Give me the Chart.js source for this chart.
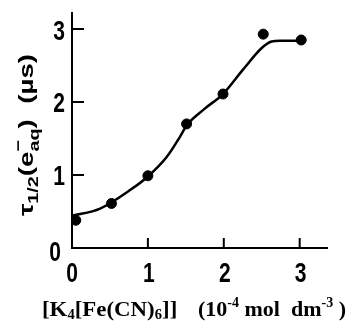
<!DOCTYPE html>
<html>
<head>
<meta charset="utf-8">
<script src="https://cdn.jsdelivr.net/npm/chart.js@4/dist/chart.umd.min.js"></script>
<style>
  html, body { margin: 0; padding: 0; background: #fff; }
  #wrap { width: 348px; height: 327px; }
</style>
</head>
<body>
<div id="wrap"><canvas id="tauChart"></canvas></div>
<script>
// measured points (concentration in 1e-4 mol dm-3, half-life in us)
const conc = [0.05, 0.52, 1.0, 1.51, 1.99, 2.52, 3.02];
const tau = [0.38, 0.61, 0.99, 1.70, 2.11, 2.93, 2.85];

// hand-drawn fit curve
const curveX = [0, 0.37, 0.76, 1.0, 1.25, 1.42, 1.51, 1.75, 1.99, 2.25, 2.5, 2.63, 2.74, 3.04];
const curveY = [0.44, 0.54, 0.79, 0.98, 1.25, 1.52, 1.68, 1.91, 2.11, 2.44, 2.74, 2.83, 2.84, 2.84];

const xTicks = [0, 1, 2, 3];
const yTicks = [0, 1, 2, 3];
const xMax = 3.36;
const yMax = 3.22;

const tickFont = 'bold 27px "Liberation Sans", Arial, sans-serif';
const ySans = 'bold 21px "Liberation Sans", Arial, sans-serif';
const ySansSmall = 'bold 15px "Liberation Sans", Arial, sans-serif';
const serif = 'bold 22px "Liberation Serif", "Times New Roman", serif';
const serifSmall = 'bold 14px "Liberation Serif", "Times New Roman", serif';

function runsWidth(ctx, runs) {
    let w = 0;
    runs.forEach(r => {
        ctx.font = r.font;
        if (!r.keep) w += ctx.measureText(r.t).width;
    });
    return w;
}

function drawRuns(ctx, runs, x, y) {
    let cx = x;
    runs.forEach(r => {
        ctx.font = r.font;
        ctx.fillText(r.t, cx, y + (r.dy || 0));
        if (!r.keep) cx += ctx.measureText(r.t).width;
    });
}

// narrow digits like the scanned figure
function narrowText(ctx, txt, x, y, sx) {
    ctx.save();
    ctx.translate(x, y);
    ctx.scale(sx, 1);
    ctx.fillText(txt, 0, 0);
    ctx.restore();
}

const axisDeco = {
    id: 'axisDeco',
    afterDraw(chart) {
        const ctx = chart.ctx;
        const xs = chart.scales.x;
        const ys = chart.scales.y;
        const area = chart.chartArea;
        ctx.save();
        ctx.fillStyle = '#000';
        ctx.strokeStyle = '#000';
        ctx.lineWidth = 2;

        // inward tick marks
        ctx.beginPath();
        yTicks.slice(1).forEach(v => {
            const py = ys.getPixelForValue(v);
            ctx.moveTo(area.left, py);
            ctx.lineTo(area.left + 12, py);
        });
        xTicks.slice(1).forEach(v => {
            const px = xs.getPixelForValue(v);
            ctx.moveTo(px, area.bottom);
            ctx.lineTo(px, area.bottom - 10);
        });
        ctx.stroke();

        // tick labels
        ctx.font = tickFont;
        ctx.textBaseline = 'middle';
        ctx.textAlign = 'right';
        yTicks.forEach(v => {
            const py = ys.getPixelForValue(v) + (v === 0 ? 6 : 3);
            narrowText(ctx, String(v), area.left - (v === 0 ? 11 : 7), py, 0.78);
        });
        ctx.textAlign = 'center';
        xTicks.forEach(v => {
            const px = xs.getPixelForValue(v) + (v === 0 ? 0 : 1);
            narrowText(ctx, String(v), px, area.bottom + 27, 0.78);
        });

        // y title, rotated
        ctx.textAlign = 'left';
        ctx.textBaseline = 'alphabetic';
        const yRuns = [
            { t: 'τ', font: ySans },
            { t: '1/2', font: ySansSmall, dy: 5 },
            { t: '(e', font: ySans },
            { t: '−', font: ySansSmall, dy: -10, keep: true },
            { t: 'aq', font: ySansSmall, dy: 6 },
            { t: ')  (µs)', font: ySans }
        ];
        ctx.save();
        ctx.translate(33, 135);
        ctx.rotate(-Math.PI / 2);
        ctx.scale(1.32, 1);
        drawRuns(ctx, yRuns, -runsWidth(ctx, yRuns) / 2, 0);
        ctx.restore();

        // x title
        const xRunsA = [
            { t: '[K', font: serif },
            { t: '4', font: serifSmall, dy: 3 },
            { t: '[Fe(CN)', font: serif },
            { t: '6', font: serifSmall, dy: 3 },
            { t: ']]', font: serif }
        ];
        const xRunsB = [
            { t: '(10', font: serif },
            { t: '-4', font: serifSmall, dy: -9 },
            { t: ' mol  dm', font: serif },
            { t: '-3', font: serifSmall, dy: -9 },
            { t: ' )', font: serif }
        ];
        ctx.save();
        ctx.translate(42, 316);
        ctx.scale(1.04, 1);
        drawRuns(ctx, xRunsA, 0, 0);
        ctx.restore();
        drawRuns(ctx, xRunsB, 198, 316);
        ctx.restore();
    }
};

const ctx = document.getElementById('tauChart').getContext('2d');
const tauChart = new Chart(ctx, {
    type: 'scatter',
    data: {
        datasets: [{
            label: 'fit',
            data: curveX.map((x, i) => ({ x: x, y: curveY[i] })),
            showLine: true,
            borderColor: '#000',
            borderWidth: 2.5,
            pointRadius: 0,
            cubicInterpolationMode: 'monotone',
            fill: false
        }, {
            label: 'measured',
            data: conc.map((x, i) => ({ x: x, y: tau[i] })),
            backgroundColor: '#000',
            borderColor: '#000',
            pointRadius: 5,
            pointHoverRadius: 5
        }]
    },
    options: {
        responsive: true,
        maintainAspectRatio: false,
        animation: false,
        layout: {
            padding: { left: 72, right: 21, top: 13, bottom: 79 }
        },
        plugins: {
            legend: { display: false },
            tooltip: { enabled: false }
        },
        scales: {
            x: {
                type: 'linear',
                min: 0,
                max: xMax,
                grid: { display: false, drawTicks: false },
                border: { display: true, color: '#000', width: 2 },
                ticks: { display: false }
            },
            y: {
                type: 'linear',
                min: 0,
                max: yMax,
                grid: { display: false, drawTicks: false },
                border: { display: true, color: '#000', width: 2 },
                ticks: { display: false }
            }
        }
    },
    plugins: [axisDeco]
});
</script>
</body>
</html>
